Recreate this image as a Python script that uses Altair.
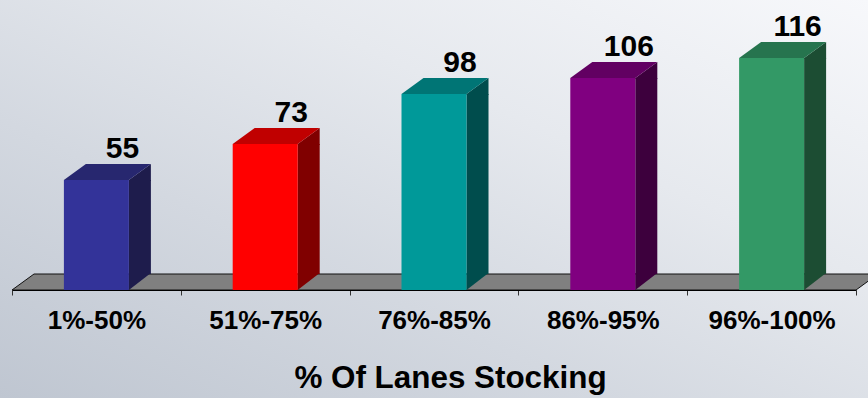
import altair as alt
import pandas as pd

# ---- data ----
categories = ["1%-50%", "51%-75%", "76%-85%", "86%-95%", "96%-100%"]
values = [55, 73, 98, 106, 116]
front_colors = ["#333399", "#FF0000", "#009999", "#800080", "#339966"]
top_colors = ["#27276F", "#C00000", "#007575", "#620062", "#26744E"]
side_colors = ["#1E1C4C", "#800000", "#004D4D", "#3D003D", "#1C4D33"]
x_title = "% Of Lanes Stocking"

df = pd.DataFrame({
    "cat": categories,
    "v": values,
    "front": front_colors,
    "top": top_colors,
    "side": side_colors,
})

FONT = "Liberation Sans, Arial, sans-serif"
W, H = 868, 290

# bar geometry (pixels): front face width, depth offsets
BW = 65
DX, DY = 22, 16
half = BW / 2

x_scale = alt.Scale(domain=categories, range=[12, 856], paddingInner=0, paddingOuter=0)
y_scale = alt.Scale(domain=[0, 145], nice=False, zero=True)

X = alt.X("cat:N", scale=x_scale, sort=categories,
          axis=alt.Axis(
              title=x_title, labelAngle=0, tickBand="extent", zindex=1,
              domainColor="#000000", domainWidth=1.2,
              tickColor="#333333", tickSize=5, tickWidth=1,
              labelFont=FONT, labelFontSize=26, labelFontWeight="bold",
              labelColor="#000000", labelBaseline="alphabetic", labelPadding=33,
              titleFont=FONT, titleFontSize=31.4, titleFontWeight="bold",
              titleColor="#000000", titleX=450, titleY=97,
              titleAlign="center", titleBaseline="alphabetic"))
Y = alt.Y("v:Q", scale=y_scale, axis=None)

base = alt.Chart(df)

# background gradient panel
bg = alt.Chart(pd.DataFrame({"k": [0]})).mark_rect(
    color=alt.LinearGradient(
        gradient="linear",
        stops=[alt.GradientStop(color="#bfc6d1", offset=0),
               alt.GradientStop(color="#d3d8e0", offset=0.35),
               alt.GradientStop(color="#e6e9ee", offset=0.65),
               alt.GradientStop(color="#f7f8fb", offset=1)],
        x1=0, y1=1, x2=1, y2=0),
    clip=False,
).encode(x=alt.value(0), x2=alt.value(W), y=alt.value(0), y2=alt.value(398))

# floor slab (parallelogram anchored at middle category, value 0)
floor_path = f"M {-422} 0 L 422 0 L {422 + DX} {-DY} L {-422 + DX} {-DY} Z"
floor_df = pd.DataFrame({"cat": [categories[len(categories) // 2]], "v": [0]})
floor = alt.Chart(floor_df).mark_point(
    shape=floor_path, size=4, filled=True, fill="#808080",
    stroke="#111111", strokeWidth=1, opacity=1,
).encode(x=X, y=Y)

# side face: bottom triangle, rectangle, top triangle
side_bottom = base.mark_point(
    shape=f"M {half} 0 L {half} {-DY - 1} L {half + DX} {-DY - 1} Z",
    size=4, filled=True, opacity=1, strokeWidth=0,
).encode(x=X, y=alt.Y("zero:Q", scale=y_scale, axis=None),
         color=alt.Color("side:N", scale=None)).transform_calculate(zero="0")

side_rect = base.mark_bar(width=DX, xOffset=half + DX / 2, y2Offset=-DY).encode(
    x=X, y=Y, y2=alt.datum(0), color=alt.Color("side:N", scale=None))

side_top = base.mark_point(
    shape=f"M {half} 1 L {half} 0 L {half + DX} {-DY} L {half + DX} 1 Z",
    size=4, filled=True, opacity=1, strokeWidth=0,
).encode(x=X, y=Y, color=alt.Color("side:N", scale=None))

top_face = base.mark_point(
    shape=f"M {-half} 0 L {half} 0 L {half + DX} {-DY} L {-half + DX} {-DY} Z",
    size=4, filled=True, opacity=1, strokeWidth=0,
).encode(x=X, y=Y, color=alt.Color("top:N", scale=None))

front = base.mark_bar(width=BW).encode(
    x=X, y=Y, y2=alt.datum(0), color=alt.Color("front:N", scale=None))

labels = base.mark_text(
    dx=26, dy=-22, baseline="alphabetic", align="center",
    font=FONT, fontSize=30, fontWeight="bold", color="#000000",
).encode(x=X, y=Y, text="v:Q")

chart = alt.layer(
    bg, floor, side_bottom, side_rect, side_top, top_face, front, labels
).properties(
    width=W, height=H,
    autosize=alt.AutoSizeParams(type="none"),
    padding={"left": 0, "top": 0, "right": 0, "bottom": 108},
    background="#d9dee5",
).configure_view(stroke=None)

chart.save("out.html", embed_options={"renderer": "svg", "actions": False})
